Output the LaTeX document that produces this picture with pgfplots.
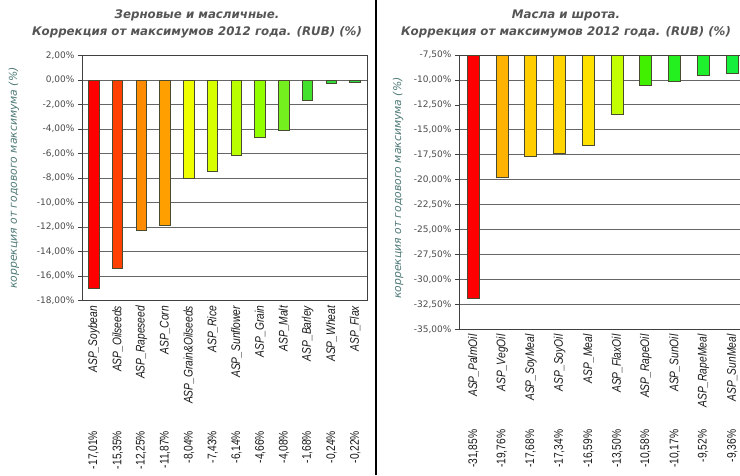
\documentclass[border=0pt]{standalone}
\usepackage{pgfplots}
\pgfplotsset{compat=1.18}
\usepackage{fontspec}
\setmainfont{DejaVu Sans}
\newfontfamily\narrow[FakeStretch=0.82]{Liberation Sans}
\definecolor{ttl}{HTML}{555555}
\definecolor{ylab}{HTML}{4F7A78}
\definecolor{bord}{HTML}{4A4A30}
% value (upright) far from the axis, name (italic) next to it
\newcommand\lab[3]{\makebox[0pt][r]{\narrow\fontsize{12.5}{12}\selectfont #2}\makebox[#1][r]{\narrow\itshape\fontsize{12.5}{12}\selectfont #3}}

\pgfplotsset{
  common/.style={
    scale only axis, anchor=south west,
    axis line style={black!75, line width=0.9pt},
    ymajorgrids, grid style={black!60, line width=0.9pt},
    tick pos=left, tick align=outside,
    major tick length=4pt, minor tick length=180pt,
    xtick style={draw=none},
    minor x tick style={black!75, line width=0.9pt},
    ytick style={black!75, line width=0.8pt},
    /pgf/number format/assume math mode=true,
    yticklabel={\pgfmathprintnumber[fixed,fixed zerofill,precision=2,use comma]{\tick}\%},
    yticklabel style={font=\fontsize{9}{10}\selectfont, text=black!70},
    xticklabel style={rotate=90, anchor=east, inner sep=1pt, text=black!90},
    ylabel style={font=\itshape\fontsize{10.8}{12}\selectfont, text=ylab},
  },
  bb/.style={ybar, bar width=#1, draw=bord, line width=0.8pt},
}

\begin{document}
\begin{tikzpicture}[x=1pt,y=1pt]
\clip (0,0) rectangle (740,475);
\fill[white] (0,0) rectangle (740,475);

% left chart
\begin{axis}[common,
  at={(82pt,174.3pt)}, width=285pt, height=245.2pt,
  xmin=-0.5, xmax=11.5, ymin=-18, ymax=2,
  ytick={-18,-16,...,2},
  xtick={0,...,11},
  minor xtick={-0.5,0.5,...,11.5},
  xticklabels={
    {\lab{125pt}{-17,01\%}{ASP\_Soybean}},
    {\lab{125pt}{-15,35\%}{ASP\_Oilseeds}},
    {\lab{125pt}{-12,25\%}{ASP\_Rapeseed}},
    {\lab{125pt}{-11,87\%}{ASP\_Corn}},
    {\lab{125pt}{-8,04\%}{ASP\_Grain\&Oilseeds}},
    {\lab{125pt}{-7,43\%}{ASP\_Rice}},
    {\lab{125pt}{-6,14\%}{ASP\_Sunflower}},
    {\lab{125pt}{-4,66\%}{ASP\_Grain}},
    {\lab{125pt}{-4,08\%}{ASP\_Malt}},
    {\lab{125pt}{-1,68\%}{ASP\_Barley}},
    {\lab{125pt}{-0,24\%}{ASP\_Wheat}},
    {\lab{125pt}{-0,22\%}{ASP\_Flax}}},
  ylabel={коррекция от годового максимума (\%)},
  ylabel style={at={(axis description cs:-0.239,0.50)}, anchor=center},
]
\addplot[bb=10.5pt, fill={rgb,255:red,255;green,0;blue,0}]   coordinates {(0,-17.01)};
\addplot[bb=10.5pt, fill={rgb,255:red,255;green,64;blue,0}]  coordinates {(1,-15.35)};
\addplot[bb=10.5pt, fill={rgb,255:red,255;green,140;blue,0}] coordinates {(2,-12.25)};
\addplot[bb=10.5pt, fill={rgb,255:red,255;green,160;blue,0}] coordinates {(3,-11.87)};
\addplot[bb=10.5pt, fill={rgb,255:red,240;green,255;blue,0}] coordinates {(4,-8.04)};
\addplot[bb=10.5pt, fill={rgb,255:red,215;green,255;blue,0}] coordinates {(5,-7.43)};
\addplot[bb=10.5pt, fill={rgb,255:red,185;green,255;blue,0}] coordinates {(6,-6.14)};
\addplot[bb=10.5pt, fill={rgb,255:red,145;green,255;blue,0}] coordinates {(7,-4.66)};
\addplot[bb=10.5pt, fill={rgb,255:red,115;green,240;blue,30}] coordinates {(8,-4.08)};
\addplot[bb=10.5pt, fill={rgb,255:red,65;green,225;blue,45}] coordinates {(9,-1.68)};
\addplot[bb=10.5pt, fill={rgb,255:red,50;green,220;blue,60}] coordinates {(10,-0.24)};
\addplot[bb=10.5pt, fill={rgb,255:red,45;green,215;blue,75}] coordinates {(11,-0.22)};
\end{axis}

% right chart
\begin{axis}[common,
  at={(459pt,145.5pt)}, width=287.5pt, height=274.5pt,
  xmin=-0.5, xmax=9.5, ymin=-35, ymax=-7.5,
  ytick={-35,-32.5,...,-7.5},
  xtick={0,...,9},
  minor xtick={-0.5,0.5,...,9.5},
  xticklabels={
    {\lab{95pt}{-31,85\%}{ASP\_PalmOil}},
    {\lab{95pt}{-19,76\%}{ASP\_VegOil}},
    {\lab{95pt}{-17,68\%}{ASP\_SoyMeal}},
    {\lab{95pt}{-17,34\%}{ASP\_SoyOil}},
    {\lab{95pt}{-16,59\%}{ASP\_Meal}},
    {\lab{95pt}{-13,50\%}{ASP\_FlaxOil}},
    {\lab{95pt}{-10,58\%}{ASP\_RapeOil}},
    {\lab{95pt}{-10,17\%}{ASP\_SunOil}},
    {\lab{95pt}{-9,52\%}{ASP\_RapeMeal}},
    {\lab{95pt}{-9,36\%}{ASP\_SunMeal}}},
  ylabel={коррекция от годового максимума (\%)},
  ylabel style={at={(axis description cs:-0.212,0.515)}, anchor=center},
]
\addplot[bb=12pt, fill={rgb,255:red,255;green,0;blue,0}]   coordinates {(0,-31.85)};
\addplot[bb=12pt, fill={rgb,255:red,255;green,178;blue,0}] coordinates {(1,-19.76)};
\addplot[bb=12pt, fill={rgb,255:red,255;green,205;blue,0}] coordinates {(2,-17.68)};
\addplot[bb=12pt, fill={rgb,255:red,255;green,212;blue,0}] coordinates {(3,-17.34)};
\addplot[bb=12pt, fill={rgb,255:red,255;green,225;blue,0}] coordinates {(4,-16.59)};
\addplot[bb=12pt, fill={rgb,255:red,195;green,255;blue,0}] coordinates {(5,-13.50)};
\addplot[bb=12pt, fill={rgb,255:red,65;green,240;blue,0}]  coordinates {(6,-10.58)};
\addplot[bb=12pt, fill={rgb,255:red,35;green,240;blue,30}] coordinates {(7,-10.17)};
\addplot[bb=12pt, fill={rgb,255:red,30;green,240;blue,45}] coordinates {(8,-9.52)};
\addplot[bb=12pt, fill={rgb,255:red,20;green,240;blue,60}] coordinates {(9,-9.36)};
\end{axis}

\draw[line width=2.5pt] (376,0) -- (376,475);

\node[font=\bfseries\itshape\fontsize{11.8}{17}\selectfont, text=ttl, align=center]
  at (197,451) {Зерновые и масличные.\\Коррекция от максимумов 2012 года. (RUB) (\%)};
\node[font=\bfseries\itshape\fontsize{11.8}{17}\selectfont, text=ttl, align=center]
  at (566,451) {Масла и шрота.\\Коррекция от максимумов 2012 года. (RUB) (\%)};
\end{tikzpicture}
\end{document}
